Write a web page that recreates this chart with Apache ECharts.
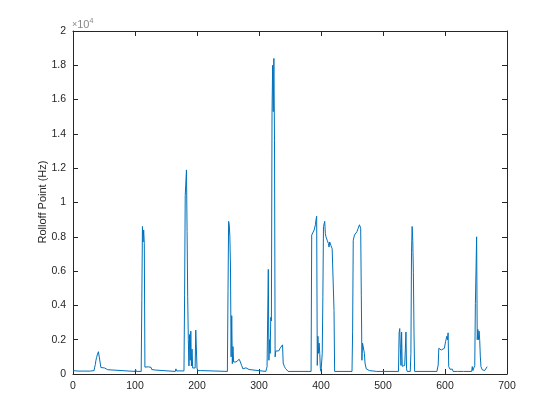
<!DOCTYPE html>
<html>
<head>
<meta charset="utf-8">
<script src="https://cdn.jsdelivr.net/npm/echarts@6/dist/echarts.min.js"></script>
<style>html,body{margin:0;padding:0;background:#fff}#c{width:560px;height:420px}</style>
</head>
<body>
<div id="c"></div>
<script>
var xTicks = [0, 100, 200, 300, 400, 500, 600, 700];
var yTickLabels = ['0','0.2','0.4','0.6','0.8','1','1.2','1.4','1.6','1.8','2'];
var yTitle = 'Rolloff Point (Hz)';
var frames = [
0,1,3,8,9,10,18,19,20,28,29,30,34,35,36,37,38,39,40,41,42,43,44,45,46,51,52,56,57,
100,101,102,110,111,112,113,114,115,116,117,122,126,127,130,133,136,
165,166,167,179,180,181,182,183,184,185,186,187,188,189,190,191,192,193,194,197,198,199,200,201,204,206,208,
249,250,251,252,253,254,255,256,257,258,259,260,263,266,268,270,272,274,276,279,284,286,
311,312,313,314,315,316,317,318,319,320,321,322,323,324,325,326,327,332,334,336,338,339,341,343,345,347,
384,385,387,389,390,391,392,393,394,395,396,397,398,399,400,401,402,403,404,405,406,407,408,409,410,412,413,414,416,418,420,421,422,
450,451,452,454,456,458,460,462,464,465,466,467,468,470,471,473,474,476,478,480,490,491,492,500,501,502,
525,526,527,528,529,530,531,534,535,536,537,538,539,544,545,546,547,548,549,550,551,
587,588,589,590,593,594,597,599,601,603,604,605,606,608,612,613,620,621,622,630,631,632,
643,644,645,646,648,649,650,651,652,653,654,655,656,657,658,660,664,666,668
];
var rolloff = [
200,220,180,170,260,170,170,250,170,170,280,170,200,400,550,800,950,1100,1200,1300,1380,1400,1200,380,350,350,260,250,150,
150,280,150,150,4300,8600,7700,8400,7600,400,380,420,380,260,300,230,150,
150,300,180,180,4600,10400,10300,11900,8300,4500,2000,470,2300,800,2500,470,1450,350,300,350,2560,2500,350,200,290,200,150,
150,4800,8900,8700,8000,6300,1000,3400,600,1600,700,780,700,780,860,700,500,300,400,360,260,150,
150,300,430,350,6100,800,2000,1200,3300,3100,15200,18000,15300,18400,13600,1000,1340,1350,1500,1600,1700,640,430,310,260,150,
150,8100,8200,8400,8350,8700,9000,9200,500,2200,1200,1800,1200,300,150,150,1200,4500,8600,8700,8900,8200,8000,8100,7800,7600,7400,7700,7500,7300,7200,3700,150,
150,2500,7800,8100,8200,8300,8500,8700,8500,4600,800,1800,1700,1200,640,300,230,350,200,150,150,260,150,150,220,150,
150,2400,2650,1500,500,2450,450,430,500,1400,2450,300,150,150,1200,7100,8600,7800,5900,2400,150,
150,350,520,1500,1600,1400,1350,1500,1900,2200,2000,2400,430,280,280,150,150,250,150,150,250,150,
150,430,200,150,500,4100,6000,8000,2000,2600,2000,2500,1950,1000,430,250,200,300,430
];
var pts = frames.map(function(f, i){ return [f, rolloff[i]]; });
var ink = '#262626';
var font = 'Liberation Sans, Arial, sans-serif';
var chart = echarts.init(document.getElementById('c'), null, {renderer:'canvas'});
var axCommon = {
  axisLine:{show:true, onZero:false, lineStyle:{color:ink, width:1}},
  axisTick:{show:true, inside:true, length:5, lineStyle:{color:ink}},
  splitLine:{show:false}
};
chart.setOption({
  animation:false,
  backgroundColor:'#fff',
  grid:{left:73, right:53, top:31, bottom:46, containLabel:false},
  xAxis:[
    Object.assign({type:'value', min:xTicks[0], max:xTicks[xTicks.length-1], interval:100, position:'bottom',
      axisLabel:{color:ink, fontSize:10.5, fontFamily:font, margin:7}}, axCommon),
    Object.assign({type:'value', min:0, max:700, interval:100, position:'top', axisLabel:{show:false}}, axCommon)
  ],
  yAxis:[
    Object.assign({type:'value', min:0, max:20000, interval:2000, position:'left',
      axisLabel:{color:ink, fontSize:10.5, fontFamily:font, margin:7,
        formatter:function(v){ return yTickLabels[Math.round(v/2000)]; }}}, axCommon),
    Object.assign({type:'value', min:0, max:20000, interval:2000, position:'right', axisLabel:{show:false}}, axCommon)
  ],
  graphic:[{
    type:'text', left:72, top:18,
    style:{text:'{a|×}{b|10}{c|4}', rich:{
      a:{fontSize:9, fill:'#888', fontFamily:font},
      b:{fontSize:11, fill:'#888', fontFamily:font},
      c:{fontSize:7, fill:'#888', fontFamily:font, verticalAlign:'top', padding:[0,0,6,0]}
    }}
  },{
    type:'text', x:43, y:202, rotation:Math.PI/2,
    style:{text:yTitle, fill:ink, fontSize:11, fontFamily:font, align:'center', verticalAlign:'middle'}
  }],
  series:[{
    type:'line', data:pts, xAxisIndex:0, yAxisIndex:0,
    showSymbol:false, symbol:'none',
    lineStyle:{color:'#0072bd', width:1}, clip:true
  }]
});
</script>
</body>
</html>
